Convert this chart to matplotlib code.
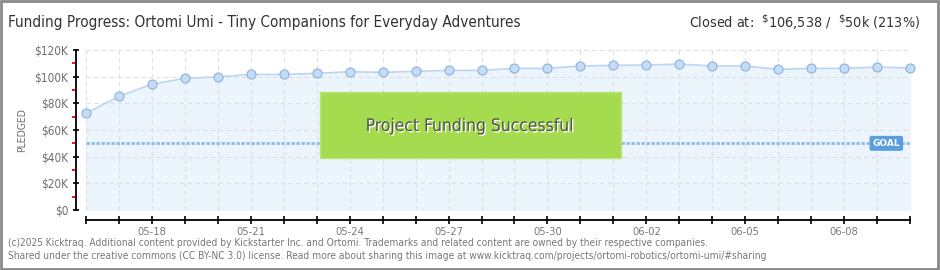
import matplotlib
matplotlib.use("Agg")
import matplotlib.pyplot as plt
from matplotlib.patches import Rectangle
import matplotlib.patheffects as pe
import numpy as np

# Daily pledged totals (thousands of USD)
dates = ["05-16", "05-17", "05-18", "05-19", "05-20", "05-21", "05-22", "05-23",
         "05-24", "05-25", "05-26", "05-27", "05-28", "05-29", "05-30", "05-31",
         "06-01", "06-02", "06-03", "06-04", "06-05", "06-06", "06-07", "06-08",
         "06-09", "06-10"]
pledged_k = [72.5, 85.3, 94.3, 98.8, 99.8, 101.7, 101.7, 102.5,
             103.7, 103.2, 104.0, 104.7, 104.7, 106.2, 106.2, 108.0,
             108.5, 108.7, 109.5, 108.0, 108.0, 105.5, 106.2, 106.2,
             107.2, 106.5]
goal_k = 50
y_ticks_k = [0, 20, 40, 60, 80, 100, 120]
y_tick_labels = ["\\$0", "\\$20K", "\\$40K", "\\$60K", "\\$80K", "\\$100K", "\\$120K"]
label_every = 3
label_start = 2

title = "Funding Progress: Ortomi Umi - Tiny Companions for Everyday Adventures"
closed_text = r"Closed at:  $^{\$}$106,538 /  $^{\$}$50k (213%)"
footer_1 = ("(c)2025 Kicktraq. Additional content provided by Kickstarter Inc. and Ortomi. "
            "Trademarks and related content are owned by their respective companies.")
footer_2 = ("Shared under the creative commons (CC BY-NC 3.0) license. Read more about sharing "
            "this image at www.kicktraq.com/projects/ortomi-robotics/ortomi-umi/#sharing")

W, H = 940, 270
fig = plt.figure(figsize=(W / 100, H / 100), dpi=100)
fig.patch.set_facecolor("white")

cond = dict(family="DejaVu Sans", fontstretch="condensed")

# outer frame
fig.add_artist(Rectangle((0.001, 0.002), 0.997, 0.995, transform=fig.transFigure,
                         fill=False, edgecolor="#8a8a8a", linewidth=2))

# plot area: x 86..910 px, y 50..210 px
ax = fig.add_axes([86 / W, (H - 210) / H, (910 - 86) / W, 160 / H])
ax.set_facecolor("white")
x = np.arange(len(dates))
ax.set_xlim(0, len(dates) - 1)
ax.set_ylim(0, 120)

ax.fill_between(x, pledged_k, 0, color="#ecf4fc", zorder=1)
ax.plot(x, pledged_k, color="#bcd6f2", linewidth=1.2, zorder=3)
ax.plot(x, pledged_k, linestyle="none", marker="o", markersize=6.5,
        markerfacecolor="#c4dcf6", markeredgecolor="#8fb1da", markeredgewidth=0.8,
        zorder=4, clip_on=False)

# grid
for yv in y_ticks_k:
    ax.axhline(yv, color="#dcdfe3", linewidth=0.8, linestyle=(0, (4, 3)), zorder=2)
for xv in x:
    ax.axvline(xv, color="#dcdfe3", linewidth=0.8, linestyle=(0, (4, 3)), zorder=2)

# goal line
ax.axhline(goal_k, color="#8dbbe9", linewidth=2, linestyle=(0, (1.2, 0.6)), zorder=3)

# spines
for s in ["top", "right"]:
    ax.spines[s].set_visible(False)
ax.spines["left"].set_position(("outward", 7.2))
ax.spines["bottom"].set_position(("outward", 7.2))
for s in ["left", "bottom"]:
    ax.spines[s].set_color("black")
    ax.spines[s].set_linewidth(1.3)

ax.set_yticks(y_ticks_k)
ax.set_yticklabels(y_tick_labels, **cond)
ax.set_yticks([10, 30, 50, 70, 90, 110], minor=True)
ax.tick_params(axis="y", which="major", direction="inout", length=5, width=1.2,
               color="black", labelsize=8.5, labelcolor="#6e6e6e", pad=3)
ax.tick_params(axis="y", which="minor", direction="out", length=3, width=1.3,
               color="#ff0000")

ax.set_xticks(x)
ax.set_xticklabels([d if (i - label_start) % label_every == 0 and i >= label_start else ""
                    for i, d in enumerate(dates)], **cond)
ax.tick_params(axis="x", direction="inout", length=6, width=1.2, color="black",
               labelsize=8, labelcolor="#7a7a7a", pad=2)
ax.set_ylabel("PLEDGED", fontsize=7.5, color="#6e6e6e", **cond)
ax.yaxis.set_label_coords(-0.0716, 0.5)

# success banner
ax.add_patch(Rectangle((0.284, 0.325), 0.365, 0.4125, transform=ax.transAxes,
                       facecolor="#a5dc4f", edgecolor="#b8e47a", linewidth=1, zorder=5))
ax.text(0.466, 0.525, "Project Funding Successful", transform=ax.transAxes,
        ha="center", va="center", fontsize=12.5, color="#555555",
        zorder=6, path_effects=[pe.withSimplePatchShadow(offset=(1, -1),
                                                          shadow_rgbFace="white", alpha=1)],
        **cond)

# goal tag
ax.text(len(dates) - 1.3, goal_k, "GOAL", ha="right", va="center", fontsize=6.5,
        color="white", fontweight="bold", zorder=6,
        bbox=dict(boxstyle="round,pad=0.25,rounding_size=0.15", facecolor="#5b9ee0",
                  edgecolor="#5b9ee0"))

# header and footer
fig.text(8 / W, 1 - 22 / H, title, fontsize=11, color="#333333", va="center", **cond)
fig.text(920 / W, 1 - 22 / H, closed_text, fontsize=10.3, color="#333333",
         va="center", ha="right", **cond)
fig.text(8 / W, 1 - 243 / H, footer_1, fontsize=7.3, color="#777777", va="center", **cond)
fig.text(8 / W, 1 - 256 / H, footer_2, fontsize=7.3, color="#777777", va="center", **cond)

fig.savefig("out.png", dpi=100)
